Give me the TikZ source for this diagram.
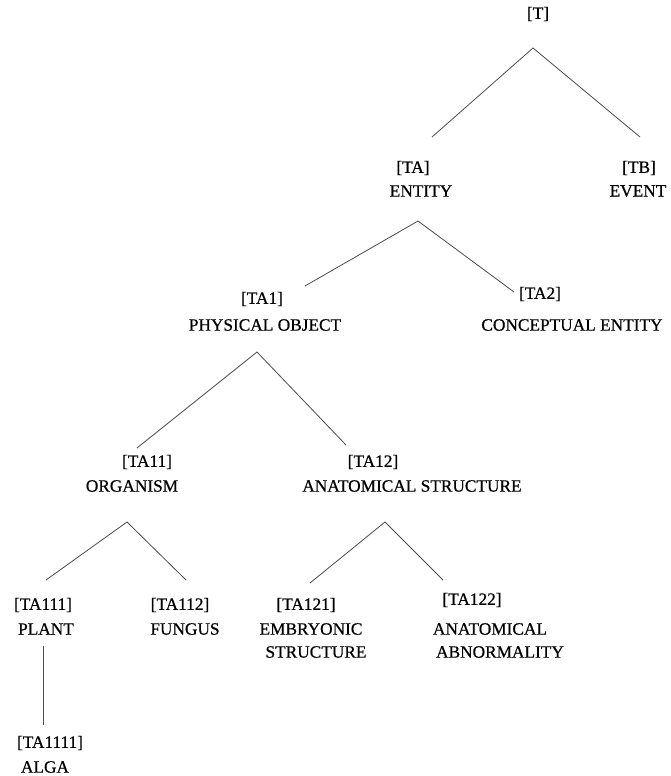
\documentclass[tikz,border=0pt]{standalone}
\usepackage{fontspec}
\setmainfont[FakeBold=0.6]{Liberation Serif}
\begin{document}
\begin{tikzpicture}[x=1pt,y=-1pt,
  lbl/.style={inner sep=0pt,font=\fontsize{17.3}{19}\selectfont,text=black},
  edge/.style={draw=black!70,line width=0.8pt}]
\useasboundingbox[fill=white] (0,0) rectangle (670,776);
% labels
\node[lbl] (tid) at (538,14) {[T]};
\node[lbl] (taid) at (413,168) {[TA]};
\node[lbl] (ta) at (421,191) {ENTITY};
\node[lbl] (tbid) at (639,168) {[TB]};
\node[lbl] (tb) at (638,191) {EVENT};
\node[lbl] (taoneid) at (262,299) {[TA1]};
\node[lbl] (taone) at (265,325) {PHYSICAL OBJECT};
\node[lbl] (tatwoid) at (540,294) {[TA2]};
\node[lbl] (tatwo) at (572,325) {CONCEPTUAL ENTITY};
\node[lbl] (taelid) at (147,462) {[TA11]};
\node[lbl] (tael) at (132,486) {ORGANISM};
\node[lbl] (tatwelid) at (373,462) {[TA12]};
\node[lbl] (tatwel) at (412,486) {ANATOMICAL STRUCTURE};
\node[lbl] (plantid) at (43,605) {[TA111]};
\node[lbl] (plant) at (46,629) {PLANT};
\node[lbl] (fungid) at (180,605) {[TA112]};
\node[lbl] (fung) at (185,629) {FUNGUS};
\node[lbl] (embid) at (306,605) {[TA121]};
\node[lbl] (emba) at (311,629) {EMBRYONIC};
\node[lbl] (embb) at (316,652) {STRUCTURE};
\node[lbl] (abnid) at (472,600) {[TA122]};
\node[lbl] (abna) at (490,629) {ANATOMICAL};
\node[lbl] (abnb) at (500,652) {ABNORMALITY};
\node[lbl] (algaid) at (50,743) {[TA1111]};
\node[lbl] (alga) at (45,767) {ALGA};
% connector end points
\coordinate (tapex) at (533,48);
\coordinate (tl) at (432,137);
\coordinate (tr) at (640,137);
\coordinate (taapex) at (418,221);
\coordinate (tal) at (305,286);
\coordinate (tar) at (514,292);
\coordinate (taoneapex) at (257,352);
\coordinate (taonel) at (137,448);
\coordinate (taoner) at (346,445);
\coordinate (taelapex) at (127,522);
\coordinate (taell) at (46,580);
\coordinate (taelr) at (186,580);
\coordinate (tatwelapex) at (385,522);
\coordinate (tatwell) at (310,583);
\coordinate (tatwelr) at (443,580);
\coordinate (plantdown) at (43,646);
\coordinate (algaup) at (43,725);
% connectors
\draw[edge] (tl) -- (tapex) -- (tr);
\draw[edge] (tal) -- (taapex) -- (tar);
\draw[edge] (taonel) -- (taoneapex) -- (taoner);
\draw[edge] (taell) -- (taelapex) -- (taelr);
\draw[edge] (tatwell) -- (tatwelapex) -- (tatwelr);
\draw[edge] (plantdown) -- (algaup);
\end{tikzpicture}
\end{document}
